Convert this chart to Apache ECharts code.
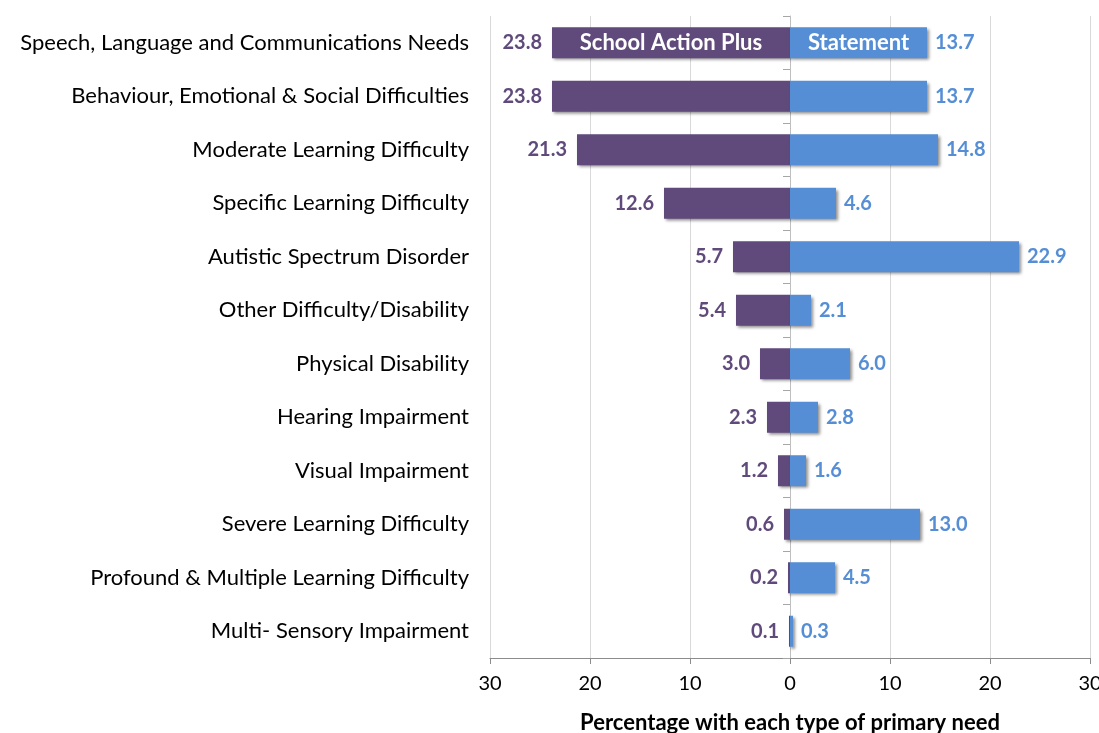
<!DOCTYPE html>
<html><head><meta charset="utf-8">
<script src="https://cdn.jsdelivr.net/npm/echarts@6/dist/echarts.min.js"></script>
<style>html,body{margin:0;padding:0;background:#fff}#c{width:1099px;height:733px}</style>
</head><body><div id="c"></div>
<script>
const categories = ["Speech, Language and Communications Needs","Behaviour, Emotional & Social Difficulties","Moderate Learning Difficulty","Specific Learning Difficulty","Autistic Spectrum Disorder","Other Difficulty/Disability","Physical Disability","Hearing Impairment","Visual Impairment","Severe Learning Difficulty","Profound & Multiple Learning Difficulty","Multi- Sensory Impairment"];
const schoolActionPlus = [23.8,23.8,21.3,12.6,5.7,5.4,3.0,2.3,1.2,0.6,0.2,0.1];
const statement = [13.7,13.7,14.8,4.6,22.9,2.1,6.0,2.8,1.6,13.0,4.5,0.3];
const seriesNames = ["School Action Plus","Statement"];
const xTicks = {min:-30,max:30,interval:10};
const axisTitle = "Percentage with each type of primary need";

const FONT = "Lato";
const purple = "#604A7B", blue = "#558ED5";
const shadow = {shadowBlur:3, shadowOffsetX:2, shadowOffsetY:2, shadowColor:"rgba(0,0,0,0.45)"};
const chart = echarts.init(document.getElementById('c'));
chart.setOption({
  animation:false,
  textStyle:{fontFamily:FONT},
  grid:{left:490,right:9,top:16,bottom:75,outerBoundsMode:'none',containLabel:false},
  xAxis:{type:'value',min:xTicks.min,max:xTicks.max,interval:xTicks.interval,
    axisLine:{show:true,onZero:false,lineStyle:{color:'#8c8c8c'}},
    axisTick:{show:true,length:6,lineStyle:{color:'#8c8c8c'}},
    splitLine:{show:true,lineStyle:{color:'#d9d9d9'}},
    axisLabel:{formatter:v=>Math.abs(v),fontSize:20,color:'#000',fontFamily:FONT,margin:16},
    name:axisTitle,nameLocation:'middle',nameGap:54,
    nameTextStyle:{fontSize:22,fontWeight:'bold',color:'#000',fontFamily:FONT}},
  yAxis:[
    {type:'category',data:categories,inverse:true,position:'left',
     axisLine:{show:true,onZero:true,lineStyle:{color:'#bfbfbf'}},
     axisTick:{show:true,length:7,lineStyle:{color:'#a6a6a6'}},
     axisLabel:{show:false}},
    {type:'category',data:categories,inverse:true,position:'left',
     axisLine:{show:false,onZero:false},axisTick:{show:false},
     axisLabel:{fontSize:22,color:'#000',fontFamily:FONT,margin:21}}
  ],
  series:[
    {name:seriesNames[0],type:'bar',yAxisIndex:0,barWidth:31,barGap:'-100%',
     data:schoolActionPlus.map(v=>-v),
     itemStyle:Object.assign({color:purple},shadow),
     label:{show:true,position:'left',distance:10,fontSize:20,fontWeight:'bold',color:purple,fontFamily:FONT,
       formatter:p=>Math.abs(p.value).toFixed(1)}},
    {name:seriesNames[1],type:'bar',yAxisIndex:0,barWidth:31,barGap:'-100%',
     data:statement,
     itemStyle:Object.assign({color:blue},shadow),
     label:{show:true,position:'right',distance:8,fontSize:20,fontWeight:'bold',color:blue,fontFamily:FONT,
       formatter:p=>p.value.toFixed(1)}},
    {type:'bar',yAxisIndex:0,barWidth:31,barGap:'-100%',silent:true,
     data:schoolActionPlus.map((v,i)=>i===0?-v:null),
     itemStyle:{color:'transparent'},
     label:{show:true,position:'inside',fontSize:22,fontWeight:'bold',color:'#fff',fontFamily:FONT,formatter:()=>seriesNames[0]}},
    {type:'bar',yAxisIndex:0,barWidth:31,barGap:'-100%',silent:true,
     data:statement.map((v,i)=>i===0?v:null),
     itemStyle:{color:'transparent'},
     label:{show:true,position:'inside',fontSize:22,fontWeight:'bold',color:'#fff',fontFamily:FONT,formatter:()=>seriesNames[1]}}
  ]
});
</script></body></html>
